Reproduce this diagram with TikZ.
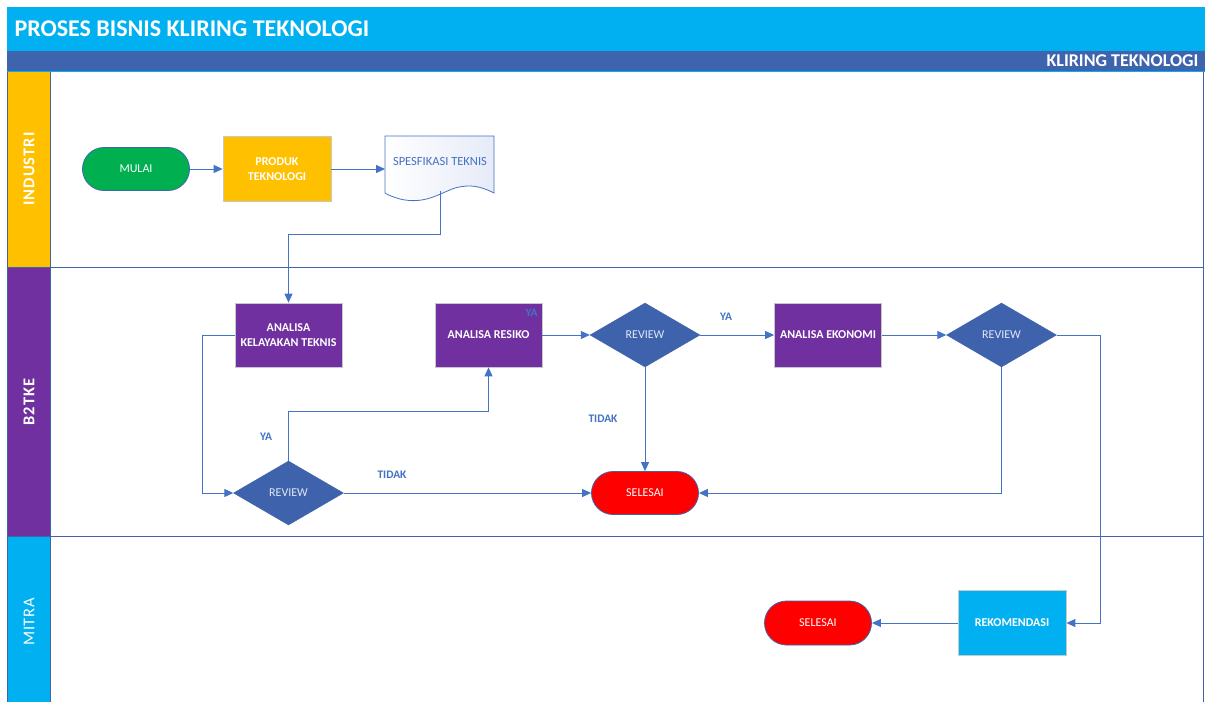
\documentclass[tikz,border=0pt]{standalone}
\usepackage{fontspec}
\setmainfont{Carlito}
\usetikzlibrary{shapes.geometric,arrows.meta}
\definecolor{cyanbar}{RGB}{0,176,240}
\definecolor{darkbar}{RGB}{62,100,173}
\definecolor{lanecol}{RGB}{68,98,168}
\definecolor{linecol}{RGB}{68,114,196}
\definecolor{yel}{RGB}{255,192,0}
\definecolor{purp}{RGB}{112,48,160}
\definecolor{grn}{RGB}{0,176,80}
\definecolor{diam}{RGB}{62,99,172}
\definecolor{docfill}{RGB}{230,235,248}
\tikzset{
  procbox/.style={rectangle, draw={rgb,255:red,200;green,200;blue,200}, line width=0.8pt, minimum width=107pt, minimum height=64pt, inner sep=2pt, align=center, text=white, font=\fontsize{12}{15}\selectfont\bfseries},
  termbox/.style={rectangle, rounded corners=21.5pt, draw=darkbar, line width=0.8pt, minimum width=107pt, minimum height=43pt, align=center, text=white, font=\fontsize{12}{14}\selectfont},
  decbox/.style={diamond, aspect=1.7, fill=diam, draw=diam, minimum width=110pt, minimum height=64pt, inner sep=0pt, text={rgb,255:red,225;green,232;blue,245}, font=\fontsize{12}{14}\selectfont},
  conn/.style={draw=linecol, line width=1pt, -{Triangle[length=9pt,width=8pt]}},
  lbl/.style={text=linecol, font=\fontsize{11.5}{13}\selectfont\bfseries},
  lanelbl/.style={rotate=90, text=white, font=\fontsize{16.5}{18}\selectfont\bfseries\addfontfeatures{LetterSpace=6}}
}
\begin{document}
\begin{tikzpicture}[x=1pt,y=-1pt]
\useasboundingbox (0,0) rectangle (1207,702);
\fill[white] (0,0) rectangle (1207,702);
% header
\fill[cyanbar] (7,7) rectangle (1205,51);
\fill[darkbar] (7,51) rectangle (1205,71);
\draw[cyanbar, line width=1.2pt] (7,71.5) -- (1205,71.5);
\node[anchor=west, text=white, font=\fontsize{24}{28}\selectfont\bfseries] (title) at (11,29) {PROSES BISNIS KLIRING TEKNOLOGI};
\node[anchor=east, text=white, font=\fontsize{18}{20}\selectfont\bfseries] (sub) at (1202,61) {KLIRING TEKNOLOGI};
% lanes
\fill[yel] (7,72) rectangle (50,267);
\fill[purp] (7,267) rectangle (50,536);
\fill[cyanbar] (7,536) rectangle (50,702);
\draw[lanecol, line width=0.8pt] (7,72) -- (7,702);
\draw[lanecol, line width=0.8pt] (50,72) -- (50,702);
\draw[lanecol, line width=0.8pt] (1203,72) -- (1203,702);
\draw[lanecol, line width=0.8pt] (7,267) -- (1203,267);
\draw[lanecol, line width=0.8pt] (7,536) -- (1203,536);
\node[lanelbl] (l1) at (29,169) {INDUSTRI};
\node[lanelbl] (l2) at (29,402) {B2TKE};
\node[lanelbl, font=\fontsize{16.5}{18}\selectfont\addfontfeatures{LetterSpace=4}] (l3) at (29,622) {MITRA};
% nodes
\node[termbox, fill=grn] (mulai) at (136,169) {MULAI};
\node[procbox, fill=yel, minimum width=108pt, minimum height=65pt] (produk) at (277,169) {PRODUK\\TEKNOLOGI};
% document shape
\draw[draw=linecol, line width=0.8pt, left color=white, right color=docfill]
  (385,136) -- (494,136) -- (494,193)
  .. controls (480,186) and (470,184) .. (455,188)
  .. controls (440,193) and (425,205) .. (400,199)
  .. controls (393,197) and (388,195) .. (385,193) -- cycle;
\node[text=linecol, font=\fontsize{12.5}{14}\selectfont] (spes) at (440,161) {SPESFIKASI TEKNIS};
\coordinate (spesb) at (440,191);
\node[procbox, fill=purp] (akt) at (288.5,335) {ANALISA\\KELAYAKAN TEKNIS};
\node[procbox, fill=purp] (ar) at (488.5,335) {ANALISA RESIKO};
\node[lbl, anchor=east] (ya0) at (541,313) {YA};
\node[decbox] (rev1) at (645,335) {REVIEW};
\node[procbox, fill=purp] (ae) at (828,335) {ANALISA EKONOMI};
\node[decbox] (rev3) at (1001.5,335) {REVIEW};
\node[decbox] (rev2) at (288.5,493) {REVIEW};
\node[termbox, fill=red] (sel1) at (645,493) {SELESAI};
\node[procbox, fill=cyanbar, minimum width=108pt, minimum height=65pt] (rek) at (1012,623) {REKOMENDASI};
\node[termbox, fill=red, rounded corners=22pt, minimum height=44pt] (sel2) at (818,623) {SELESAI};
% connectors
\draw[conn] (mulai) -- (produk);
\draw[conn] (produk.east) -- (385,169);
\draw[conn] (spesb) -- (440,234) -| (akt.north);
\draw[conn] (akt.west) -- (202,335) |- (rev2.west);
\draw[conn] (rev2.north) -- (288.5,411) -| (ar.south);
\draw[conn] (rev2.east) -- (sel1.west);
\draw[conn] (ar.east) -- (rev1.west);
\draw[conn] (rev1.east) -- (ae.west);
\draw[conn] (rev1.south) -- (sel1.north);
\draw[conn] (ae.east) -- (rev3.west);
\draw[conn] (rev3.south) |- (sel1.east);
\draw[conn] (rev3.east) -- (1100,335) |- (rek.east);
\draw[conn] (rek.west) -- (sel2.east);
% labels
\node[lbl] (ya1) at (266,437) {YA};
\node[lbl] (tidak1) at (392,475) {TIDAK};
\node[lbl] (ya2) at (726,317) {YA};
\node[lbl] (tidak2) at (603,419) {TIDAK};
\end{tikzpicture}
\end{document}
